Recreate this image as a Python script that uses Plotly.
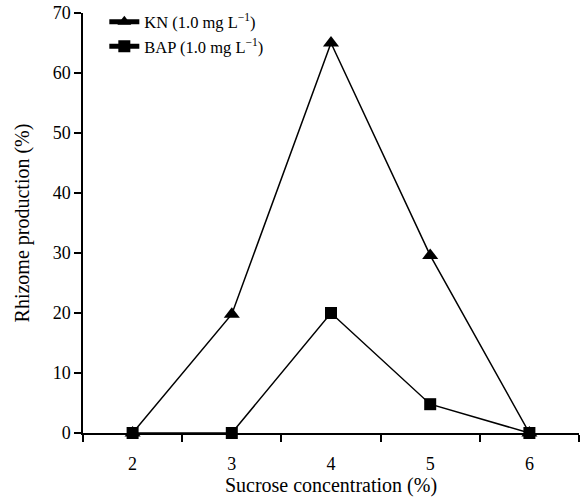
import plotly.graph_objects as go

sucrose = ["2", "3", "4", "5", "6"]
kn_values = [0, 19.8, 65, 29.6, 0]
bap_values = [0, 0, 20, 4.8, 0]
kn_name = "KN (1.0 mg L<sup>−1</sup>)"
bap_name = "BAP (1.0 mg L<sup>−1</sup>)"

font = "Liberation Serif, Times New Roman, serif"

fig = go.Figure()
fig.add_trace(go.Scatter(
    x=sucrose, y=kn_values, name=kn_name, mode="lines+markers",
    line=dict(color="black", width=1.5),
    marker=dict(symbol="triangle-up", size=14, color="black"),
    cliponaxis=False,
))
fig.add_trace(go.Scatter(
    x=sucrose, y=bap_values, name=bap_name, mode="lines+markers",
    line=dict(color="black", width=1.5),
    marker=dict(symbol="square", size=12, color="black"),
    cliponaxis=False,
))

fig.update_layout(
    width=586, height=501,
    margin=dict(l=83, r=7, t=13, b=68, autoexpand=False),
    paper_bgcolor="white", plot_bgcolor="white",
    font=dict(family=font, size=16.5, color="black"),
    showlegend=True,
    legend=dict(x=0.043, y=1.02, xanchor="left", yanchor="top",
                bgcolor="rgba(0,0,0,0)", font=dict(size=16.5),
                tracegroupgap=0, itemsizing="constant"),
    xaxis=dict(
        type="category", range=[-0.5, 4.5], tickson="boundaries",
        showline=True, linecolor="black", linewidth=1.5,
        ticks="outside", ticklen=7, tickwidth=1.5, tickcolor="black",
        showgrid=False, zeroline=False, automargin=False,
        ticklabelstandoff=14, ticklabeloverflow="allow",
        title=dict(text="Sucrose concentration (%)", standoff=5),
        tickfont=dict(size=18),
    ),
    yaxis=dict(
        range=[0, 70], dtick=10,
        showline=True, linecolor="black", linewidth=1.5,
        ticks="outside", ticklen=7, tickwidth=1.5, tickcolor="black",
        showgrid=False, zeroline=False, automargin=False,
        ticklabeloverflow="allow",
        title=dict(text="Rhizome production (%)", standoff=18),
        tickfont=dict(size=18),
    ),
)

# remove the browser's default body margin so the figure fills the window
fig.write_html("out.html", config={"displayModeBar": False},
               post_script="document.body.style.margin='0px';")
